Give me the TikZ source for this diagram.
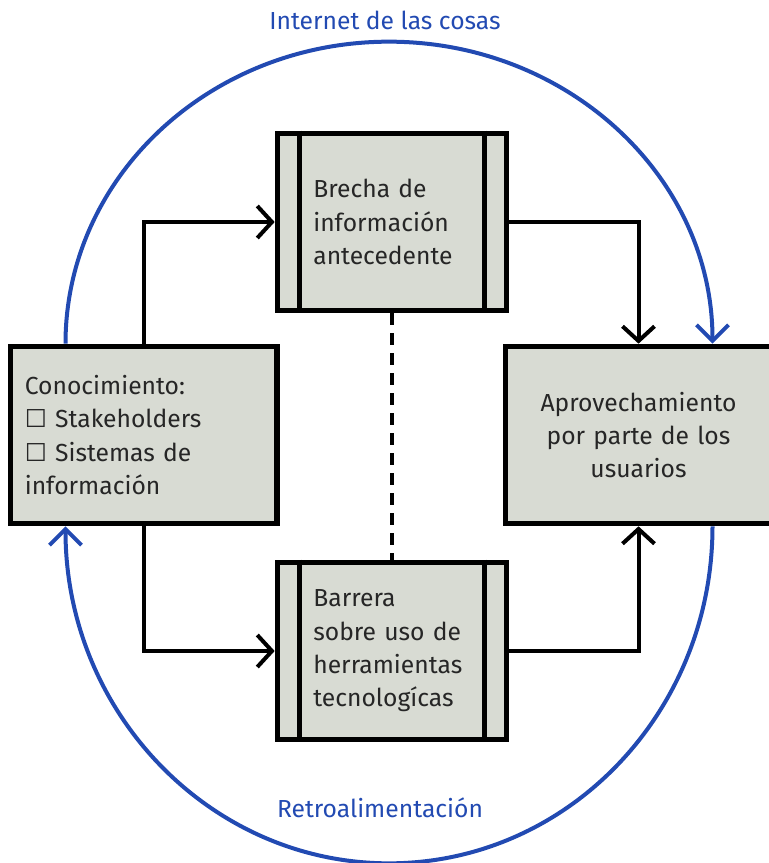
\documentclass[tikz,border=0pt]{standalone}
\usepackage{fontspec}
\setmainfont{Fira Sans}
\newfontfamily\symfont{DejaVu Sans}
\usepackage{xcolor}
\usetikzlibrary{arrows.meta,
positioning,
calc}
\definecolor{cajagris}{RGB}{216,219,211}
\definecolor{azulciclo}{RGB}{34,74,178}

\begin{document}
\begin{tikzpicture}[
		x=0.75pt, y=-0.75pt,
		caja/.style={
			draw,
			line width=4pt,
			fill=cajagris,
			text=black!85,
			minimum height=133pt,
			font=\fontsize{18.5}{25}\selectfont
		},
		proceso/.style={
			caja,
			minimum width=172pt,
			text width=118pt,
			align=left
		},
		lado/.style={
			caja,
			minimum width=200pt,
			text width=178pt
		},
		flecha/.style={
			-{Straight Barb[length=11pt,width=24pt]},
			line width=3pt
		},
		ciclo/.style={
			-{Straight Barb[length=12pt,width=24pt]},
			line width=3pt,
			draw=azulciclo
		},
		etiqueta/.style={
			text=azulciclo,
			font=\fontsize{18.5}{22}\selectfont
		}
		]
		\useasboundingbox (0,0) rectangle (768,863);
		
		% Central processes
		\node[proceso] (brecha) at (392,222)
		{Brecha de\\información\\antecedente};
		
		\node[proceso] (barrera) at (392,651)
		{Barrera\\sobre uso de\\herramientas\\tecnologícas};
		
		% Side blocks
		\node[lado, align=left] (conoc) at (143.5,435)
		{Conocimiento:\\{\symfont ☐} Stakeholders\\{\symfont ☐} Sistemas de\\información};
		
		\node[lado, align=center] (aprov) at (638.5,435)
		{Aprovechamiento\\por parte de los\\usuarios};
		
		% Inner bars of the processes
		\foreach \n in {brecha,barrera} {
			\draw[line width=4pt] ($(\n.north west)+(25,0)$) -- ($(\n.south west)+(25,0)$);
			\draw[line width=4pt] ($(\n.north east)+(-25,0)$) -- ($(\n.south east)+(-25,0)$);
		}
		
		% Connections
		\draw[flecha] (conoc.north) |- (brecha.west);
		\draw[flecha] (brecha.east) -| (aprov.north);
		\draw[flecha] (conoc.south) |- (barrera.west);
		\draw[flecha] (barrera.east) -| (aprov.south);
		\draw[line width=3pt, dash pattern=on 9pt off 6pt] (brecha) -- (barrera);
		
		% Outer cycle
		\draw[ciclo] ($(conoc.north west)+(58,0)$)
		arc[start angle=180, end angle=360, x radius=323.5, y radius=302];
		\draw[ciclo] ($(aprov.south west)+(210,0)$)
		arc[start angle=0, end angle=180, x radius=323.5, y radius=337];
		
		% Labels
		\node[etiqueta] (iot) at (385,20) {Internet de las cosas};
		\node[etiqueta] (retro) at (380,808) {Retroalimentación};
		
	\end{tikzpicture}
\end{document}
